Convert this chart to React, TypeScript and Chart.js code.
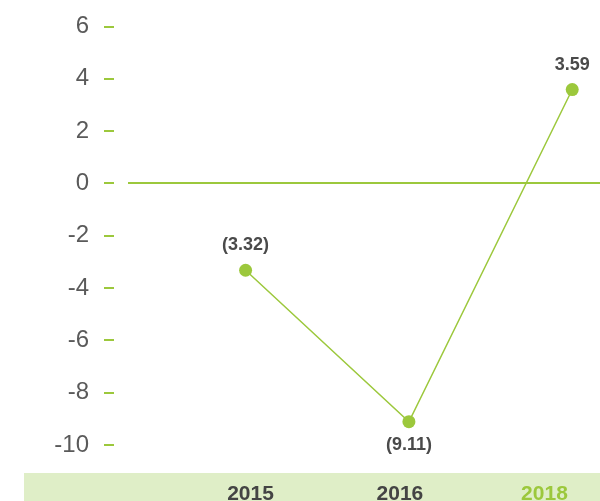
import React, { useEffect, useRef } from "react";
import { Chart, registerables } from "chart.js";

Chart.register(...registerables);

// ---- data ----
const years: string[] = ["2015", "2016", "2018"];
const values: number[] = [-3.32, -9.11, 3.59];
const yMin = -10;
const yMax = 6;
const yStep = 2;

// ---- style ----
const GREEN = "#9cc83c";
const BAND = "#dfeec7";
const FONT = "'Liberation Sans', Arial, Helvetica, sans-serif";
const labelAbove = [true, false, true];
const yearLabelSlots = [0.03, 0.945, 1.83];

const fmt = (v: number) => (v < 0 ? `(${Math.abs(v).toFixed(2)})` : v.toFixed(2));

const bandPlugin = {
  id: "band",
  beforeDraw(chart: any) {
    const { ctx, chartArea } = chart;
    ctx.save();
    ctx.fillStyle = BAND;
    ctx.fillRect(24, chartArea.bottom + 28, chart.width - 24, chart.height);
    ctx.restore();
  },
};

const valueLabelPlugin = {
  id: "valueLabels",
  afterDatasetsDraw(chart: any) {
    const { ctx } = chart;
    const meta = chart.getDatasetMeta(0);
    ctx.save();
    ctx.font = `bold 18px ${FONT}`;
    ctx.fillStyle = "#4a4a4a";
    ctx.textAlign = "center";
    ctx.textBaseline = "middle";
    meta.data.forEach((pt: any, i: number) => {
      const above = labelAbove[i];
      ctx.fillText(fmt(values[i]), pt.x, pt.y + (above ? -25 : 23));
    });
    ctx.restore();
  },
};

export default function App() {
  const ref = useRef<HTMLCanvasElement | null>(null);

  useEffect(() => {
    document.body.style.margin = "0";
    document.body.style.overflow = "hidden";
    if (!ref.current) return;
    const chart = new Chart(ref.current, {
      type: "line",
      data: {
        datasets: [
          {
            data: values.map((v, i) => ({ x: i, y: v })),
            borderColor: GREEN,
            borderWidth: 1.5,
            pointRadius: 6.5,
            pointBackgroundColor: GREEN,
            pointBorderWidth: 0,
            clip: false as any,
          },
        ],
      },
      options: {
        animation: false,
        responsive: false,
        maintainAspectRatio: false,
        layout: { autoPadding: false, padding: { top: 26.5, right: 0, bottom: 0, left: 0 } },
        plugins: { legend: { display: false }, tooltip: { enabled: false } },
        scales: {
          x: {
            type: "linear",
            min: -0.72,
            max: 2.17,
            grid: { display: false, drawTicks: false },
            border: { display: false },
            afterBuildTicks: (scale: any) => {
              scale.ticks = yearLabelSlots.map((v) => ({ value: v }));
            },
            afterFit: (scale: any) => {
              scale.height = 62;
            },
            ticks: {
              autoSkip: false,
              maxRotation: 0,
              padding: 0,
              font: { family: FONT, size: 21, weight: "bold", lineHeight: "98px" },
              color: (c: any) => (c.index === 2 ? GREEN : "#444"),
              callback: (_v: any, i: number) => years[i],
            },
          },
          y: {
            min: yMin,
            max: yMax,
            afterFit: (scale: any) => {
              scale.width = 128;
            },
            border: { display: false },
            grid: {
              color: (c: any) => (c.tick && c.tick.value === 0 ? GREEN : "transparent"),
              lineWidth: 2,
              tickColor: GREEN,
              tickLength: 39,
              tickWidth: 2,
              tickBorderDash: [10, 29],
              tickBorderDashOffset: 24,
            },
            ticks: {
              stepSize: yStep,
              padding: 0,
              color: "#5a5a5a",
              font: { family: FONT, size: 24 },
            },
          },
        },
      },
      plugins: [bandPlugin, valueLabelPlugin],
    });
    return () => chart.destroy();
  }, []);

  return (
    <div style={{ position: "fixed", left: 0, top: 0, width: 600, height: 507 }}>
      <canvas ref={ref} width={600} height={507} style={{ width: 600, height: 507, display: "block" }} />
    </div>
  );
}
